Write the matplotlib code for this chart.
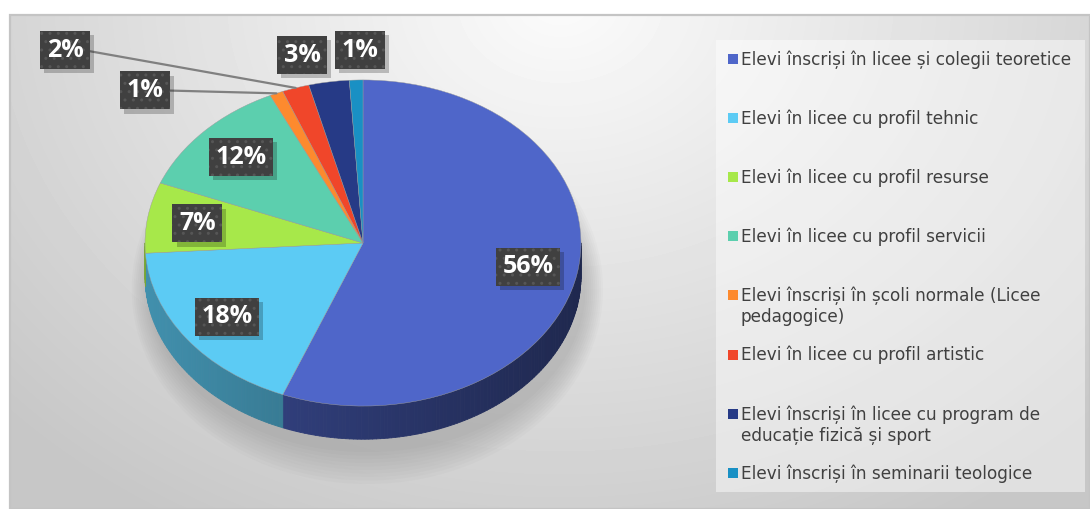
import matplotlib

matplotlib.use("Agg")

import matplotlib.pyplot as plt
import numpy as np
from matplotlib import patheffects, transforms
from matplotlib.collections import PolyCollection
from matplotlib.colors import to_rgb
from matplotlib.patches import Ellipse, Rectangle

# data
categories = [
    "Elevi înscriși în licee și colegii teoretice",
    "Elevi în licee cu profil tehnic",
    "Elevi în licee cu profil resurse",
    "Elevi în licee cu profil servicii",
    "Elevi înscriși în școli normale (Licee\npedagogice)",
    "Elevi în licee cu profil artistic",
    "Elevi înscriși în licee cu program de\neducație fizică și sport",
    "Elevi înscriși în seminarii teologice",
]
shares = [56, 18, 7, 12, 1, 2, 3, 1]
colors = ["#4f66c9", "#5ccbf4", "#a7e84a", "#5ccfae",
          "#fd8a2e", "#f0462a", "#263a86", "#1990c4"]

# where the small-slice labels sit (pie units, outside the slice)
outside_labels = {4: (-1.0, 0.70), 5: (-1.367, 0.885),
                  6: (-0.28, 0.862), 7: (-0.014, 0.885)}

W, H = 1090, 509
CX, CY, R = 363, 243, 218      # pie centre / radius in pixels
SQUASH = 0.748                 # tilt of the top face
DEPTH = 0.152                  # thickness of the pie
LABEL_FONT = ["Open Sans", "DejaVu Sans"]
LEGEND_FONT = ["DejaVu Sans"]


class BoxShadow(patheffects.SimplePatchShadow):
    """Drop shadow that ignores the hatch of the patch it follows."""

    def draw_path(self, renderer, gc, tpath, affine, rgbFace):
        gc0 = renderer.new_gc()
        gc0.copy_properties(gc)
        gc0.set_hatch(None)
        super().draw_path(renderer, gc0, tpath, affine, rgbFace)
        gc0.restore()


fig = plt.figure(figsize=(W / 100, H / 100), dpi=100)

# background panel in pixel coordinates
bg = fig.add_axes([0, 0, 1, 1])
yy, xx = np.mgrid[15:H, 10:W]
dist = np.hypot((xx - 560) / 700.0, (yy - 0) / 560.0)
shade = np.clip(0.985 - 0.19 * dist, 0.78, 0.985)
bg.imshow(shade, cmap="gray", vmin=0, vmax=1, extent=(10, W, H, 15),
          aspect="auto", interpolation="bilinear")
bg.add_patch(Rectangle((10, 15), W - 10, H - 15, fill=False,
                       ec="#c4c4c4", lw=1.6))
bg.set_xlim(0, W)
bg.set_ylim(H, 0)
bg.axis("off")

# legend
bg.add_patch(Rectangle((716, 40), 369, 452, fc="white", alpha=0.45, ec="none"))
for i, (name, col) in enumerate(zip(categories, colors)):
    y = 59 + 59.1 * i
    bg.add_patch(Rectangle((728, y - 5), 9.5, 10, fc=col, ec="none"))
    for j, line in enumerate(name.split("\n")):
        bg.text(741, y + 6 + 21 * j, line, va="baseline", ha="left",
                fontsize=12.2, color="#404040", family=LEGEND_FONT)

# pie axes: 1 unit = R pixels, centred on (CX, CY)
ax = fig.add_axes([0, 0, 1, 1])
ax.patch.set_visible(False)
wedges, _ = ax.pie(shares, colors=colors, startangle=90, counterclock=False,
                   wedgeprops=dict(linewidth=0))
ax.set_xlim(-CX / R, (W - CX) / R)
ax.set_ylim(-(H - CY) / R, CY / R)
ax.set_aspect("auto")
ax.axis("off")

squash = transforms.Affine2D().scale(1, SQUASH) + ax.transData
for w in wedges:
    w.set_transform(squash)
    w.set_zorder(4)
    w.set_edgecolor("#9a9a9a")
    w.set_linewidth(0.3)

# soft shadow under the pie
for k in range(10):
    grow = 0.018 * k
    ax.add_patch(Ellipse((0.02, -DEPTH - 0.06), 2 + grow,
                         2 * SQUASH + grow * 1.8, fc="#6a6a6a", ec="none",
                         alpha=0.03, zorder=1))

# side walls of the front half
for w, col in zip(wedges, colors):
    a0 = max(w.theta1, -180.0)
    a1 = min(w.theta2, 0.0)
    if a1 <= a0:
        continue
    steps = np.linspace(a0, a1, max(int(a1 - a0), 2) + 1)
    polys, fills = [], []
    base = np.array(to_rgb(col))
    for t0, t1 in zip(steps[:-1], steps[1:]):
        r0, r1 = np.radians(t0), np.radians(t1)
        polys.append([(np.cos(r0), SQUASH * np.sin(r0)),
                      (np.cos(r1), SQUASH * np.sin(r1)),
                      (np.cos(r1), SQUASH * np.sin(r1) - DEPTH),
                      (np.cos(r0), SQUASH * np.sin(r0) - DEPTH)])
        tm = np.radians(0.5 * (t0 + t1))
        fills.append(np.clip(base * (0.55 - 0.16 * np.cos(tm)), 0, 1))
    ax.add_collection(PolyCollection(polys, facecolors=fills, edgecolors=fills,
                                     linewidths=0.6, zorder=3))

# data labels
box = dict(boxstyle="square,pad=0.26", fc="#404040", ec="#565656", lw=0,
           hatch="..")
box_shadow = [BoxShadow(offset=(3, -3), alpha=0.22, shadow_rgbFace="black"),
              patheffects.Normal()]
for i, (w, v) in enumerate(zip(wedges, shares)):
    mid = np.radians(0.5 * (w.theta1 + w.theta2))
    edge = (np.cos(mid), SQUASH * np.sin(mid))
    if i in outside_labels:
        pos = outside_labels[i]
    else:
        pos = (0.77 * np.cos(mid), 0.77 * SQUASH * np.sin(mid))
    label = f"{v}%"
    style = dict(ha="center", va="center", fontsize=18, fontweight="bold",
                 family=LABEL_FONT, color="white", bbox=box, zorder=6)
    if np.hypot(pos[0] - edge[0], pos[1] - edge[1]) > 0.4:
        t = ax.annotate(label, xy=edge, xytext=pos,
                        arrowprops=dict(arrowstyle="-", color="#808080",
                                        lw=1.6, shrinkA=0, shrinkB=0,
                                        relpos=(1, 0.5)),
                        **style)
    else:
        t = ax.text(pos[0], pos[1], label, **style)
    t.get_bbox_patch().set_path_effects(box_shadow)

fig.savefig("out.png", dpi=100)
